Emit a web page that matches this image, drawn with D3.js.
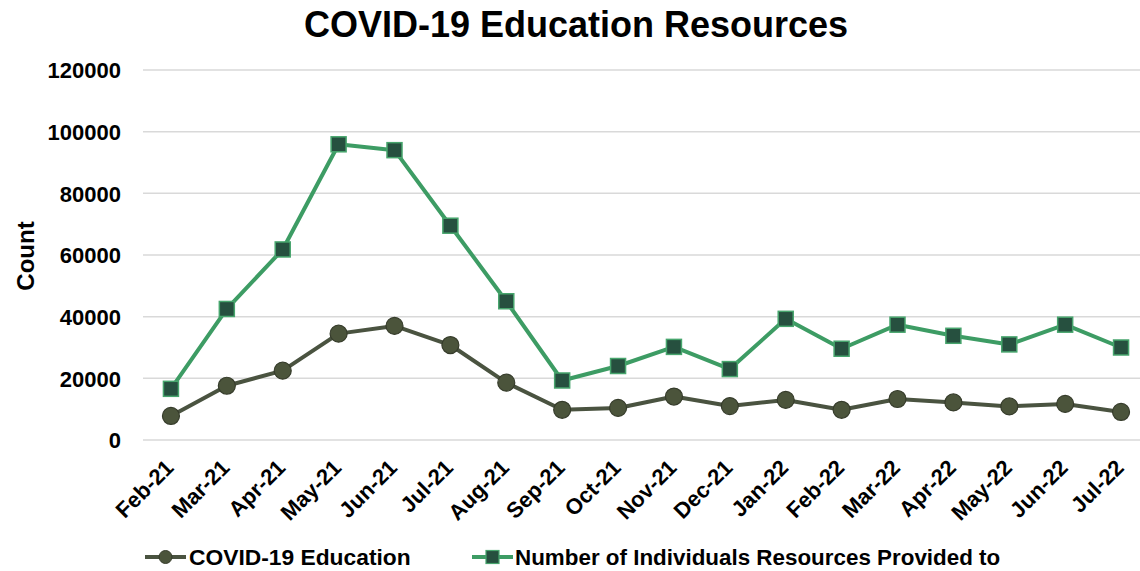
<!DOCTYPE html>
<html>
<head>
<meta charset="utf-8">
<script src="https://cdn.jsdelivr.net/npm/d3@7/dist/d3.min.js"></script>
<style>
  html, body { margin: 0; padding: 0; background: #fff; }
  svg { display: block; font-family: "Liberation Sans", Arial, sans-serif; }
</style>
</head>
<body>
<svg id="chart" width="1140" height="571"></svg>
<script>
const categories = ["Feb-21","Mar-21","Apr-21","May-21","Jun-21","Jul-21","Aug-21","Sep-21","Oct-21","Nov-21","Dec-21","Jan-22","Feb-22","Mar-22","Apr-22","May-22","Jun-22","Jul-22"];
const educationValues = [7800, 17600, 22500, 34500, 37000, 30800, 18600, 9800, 10400, 14100, 11000, 13000, 9800, 13300, 12200, 10900, 11700, 9100];
const individualsValues = [16600, 42500, 61800, 95900, 94000, 69500, 45000, 19300, 24000, 30200, 23000, 39300, 29600, 37400, 33800, 31000, 37400, 30000];
const yTicks = [0, 20000, 40000, 60000, 80000, 100000, 120000];
const seriesNames = ["COVID-19 Education", "Number of Individuals Resources Provided to"];

const svg = d3.select("#chart");
const plot = { left: 143, right: 1149, top: 70, bottom: 440 };

const x = d3.scaleBand().domain(categories).range([plot.left, plot.right]);
const y = d3.scaleLinear().domain([0, 120000]).range([plot.bottom, plot.top]);
const cx = d => x(d) + x.bandwidth() / 2;

// Title
svg.append("text")
  .attr("x", 576).attr("y", 37)
  .attr("text-anchor", "middle")
  .attr("font-size", 36).attr("font-weight", "bold").attr("fill", "#000")
  .text("COVID-19 Education Resources");

// Gridlines
svg.append("g").selectAll("line").data(yTicks).join("line")
  .attr("x1", plot.left).attr("x2", 1140)
  .attr("y1", d => y(d)).attr("y2", d => y(d))
  .attr("stroke", "#d9d9d9").attr("stroke-width", 1.5);

// Y axis
const yAxis = d3.axisLeft(y).tickValues(yTicks).tickSize(0).tickPadding(0).tickFormat(d3.format("d"));
const yg = svg.append("g").attr("transform", `translate(${121},0)`).call(yAxis);
yg.select(".domain").remove();
yg.selectAll("text").attr("font-size", 22).attr("font-weight", "bold").attr("fill", "#000")
  .attr("font-family", "Liberation Sans, Arial, sans-serif").attr("dy", "0.35em");

// Y label
svg.append("text")
  .attr("transform", `translate(34,256) rotate(-90)`)
  .attr("text-anchor", "middle")
  .attr("font-size", 24).attr("font-weight", "bold").attr("fill", "#000")
  .text("Count");

// X axis
const xAxis = d3.axisBottom(x).tickSize(0).tickPadding(0);
const xg = svg.append("g").attr("transform", `translate(0,${plot.bottom})`).call(xAxis);
xg.select(".domain").remove();
xg.selectAll("text")
  .attr("font-size", 22).attr("font-weight", "bold").attr("fill", "#000")
  .attr("font-family", "Liberation Sans, Arial, sans-serif")
  .attr("text-anchor", "end")
  .attr("dy", null)
  .attr("y", 0)
  .attr("transform", "translate(4,29) rotate(-45)");

// Lines
const lineGen = vals => d3.line().x((d, i) => cx(categories[i])).y(d => y(d))(vals);

svg.append("path").attr("d", lineGen(individualsValues))
  .attr("fill", "none").attr("stroke", "#3d9c64").attr("stroke-width", 4).attr("stroke-linejoin", "round");
svg.append("path").attr("d", lineGen(educationValues))
  .attr("fill", "none").attr("stroke", "#4a5340").attr("stroke-width", 4).attr("stroke-linejoin", "round");

// Markers
const sq = 15;
svg.append("g").selectAll("rect").data(individualsValues).join("rect")
  .attr("x", (d, i) => cx(categories[i]) - sq / 2)
  .attr("y", d => y(d) - sq / 2)
  .attr("width", sq).attr("height", sq)
  .attr("fill", "#26503f").attr("stroke", "#47a56d").attr("stroke-width", 1.5);

svg.append("g").selectAll("circle").data(educationValues).join("circle")
  .attr("cx", (d, i) => cx(categories[i]))
  .attr("cy", d => y(d))
  .attr("r", 8.5)
  .attr("fill", "#4b543b").attr("stroke", "#363c2b").attr("stroke-width", 1.2);

// Legend
const ly = 557;
const lg = svg.append("g");
lg.append("line").attr("x1", 145).attr("x2", 186).attr("y1", ly).attr("y2", ly)
  .attr("stroke", "#4a5340").attr("stroke-width", 4);
lg.append("circle").attr("cx", 165.5).attr("cy", ly).attr("r", 6.5)
  .attr("fill", "#4b543b").attr("stroke", "#363c2b").attr("stroke-width", 1);
lg.append("text").attr("x", 189).attr("y", ly + 8)
  .attr("font-size", 22.8).attr("font-weight", "bold").attr("fill", "#000").text(seriesNames[0]);

lg.append("line").attr("x1", 472).attr("x2", 513).attr("y1", ly).attr("y2", ly)
  .attr("stroke", "#3d9c64").attr("stroke-width", 4);
lg.append("rect").attr("x", 492.5 - 6.5).attr("y", ly - 6.5).attr("width", 13).attr("height", 13)
  .attr("fill", "#26503f").attr("stroke", "#47a56d").attr("stroke-width", 1.2);
lg.append("text").attr("x", 515).attr("y", ly + 8)
  .attr("font-size", 22.4).attr("font-weight", "bold").attr("fill", "#000").text(seriesNames[1]);
</script>
</body>
</html>
